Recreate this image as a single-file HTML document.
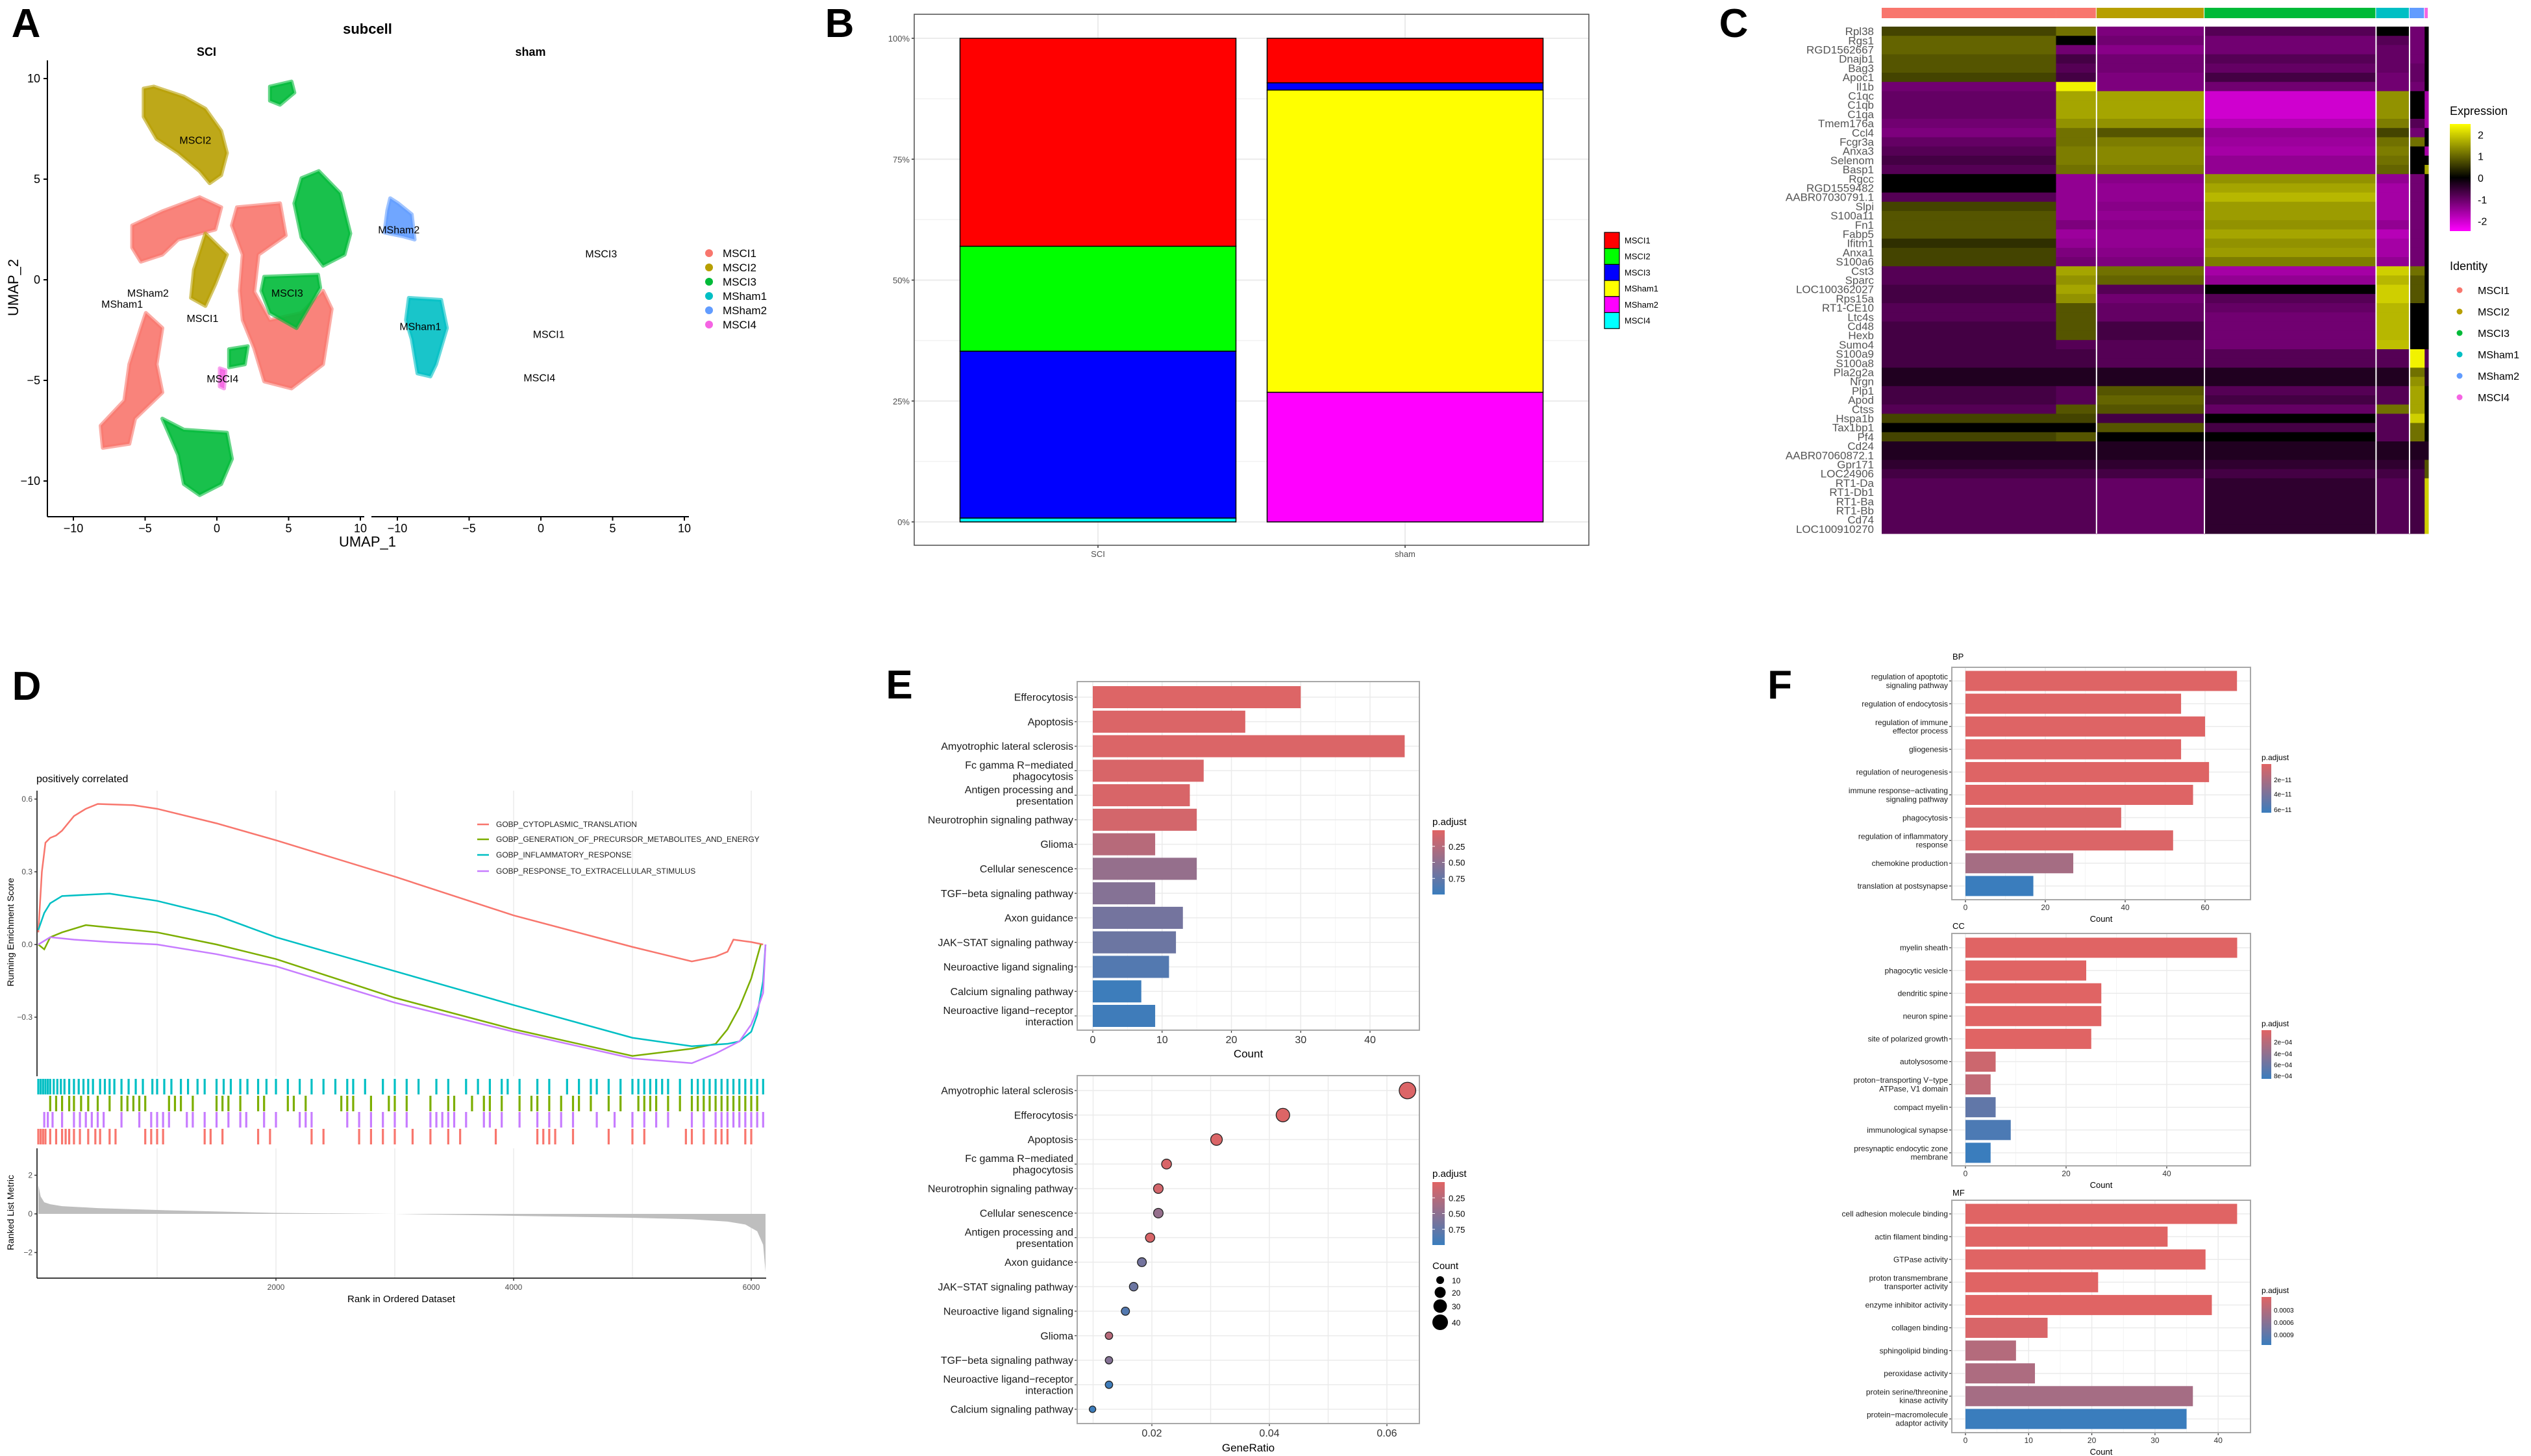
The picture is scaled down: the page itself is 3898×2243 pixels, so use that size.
<!DOCTYPE html>
<html><head><meta charset="utf-8">
<style>
html,body{margin:0;padding:0;background:#fff;}
svg{display:block;font-family:"Liberation Sans",sans-serif;}
.nar{font-family:"Liberation Sans Narrow","Liberation Sans",sans-serif;}
</style></head>
<body>
<svg id="fig" xmlns="http://www.w3.org/2000/svg" width="3898" height="2243" viewBox="0 0 3898 2243">
<rect x="0" y="0" width="3898" height="2243" fill="#fff"/>
<g font-weight="bold" font-size="62" text-anchor="middle">
<text x="40" y="57">A</text>
<text x="1293" y="57">B</text>
<text x="2670" y="57">C</text>
<text x="41" y="1078">D</text>
<text x="1385" y="1076">E</text>
<text x="2741" y="1076">F</text>
</g>
<g id="pA">
<text x="566" y="52" font-size="22" font-weight="bold" text-anchor="middle">subcell</text>
<text x="318" y="86" font-size="18" font-weight="bold" text-anchor="middle">SCI</text>
<text x="817" y="86" font-size="18" font-weight="bold" text-anchor="middle">sham</text>
<text x="566" y="842" font-size="22" text-anchor="middle">UMAP_1</text>
<text transform="translate(28,443) rotate(-90)" font-size="22" text-anchor="middle">UMAP_2</text>
</g>
<g id="pB"></g>
<g id="pC">
<text x="3773" y="177" font-size="18">Expression</text>
<text x="3773" y="416" font-size="18">Identity</text>
</g>
<g id="pD">
<text x="56" y="1205" font-size="16">positively correlated</text>
<text x="618" y="2006" font-size="15" text-anchor="middle">Rank in Ordered Dataset</text>
<text transform="translate(21,1436) rotate(-90)" font-size="14" text-anchor="middle">Running Enrichment Score</text>
<text transform="translate(21,1868) rotate(-90)" font-size="14" text-anchor="middle">Ranked List Metric</text>
</g>
<g id="pE"></g>
<g id="pF"></g>
</svg>
<script>
const NS='http://www.w3.org/2000/svg';
function mk(tag,attrs,parent){const e=document.createElementNS(NS,tag);for(const k in attrs)e.setAttribute(k,attrs[k]);parent.appendChild(e);return e;}
function txt(str,attrs,parent){const e=mk('text',attrs,parent);e.textContent=str;return e;}
function lerpCol(a,b,t){t=Math.max(0,Math.min(1,t));const pa=[parseInt(a.substr(1,2),16),parseInt(a.substr(3,2),16),parseInt(a.substr(5,2),16)];const pb=[parseInt(b.substr(1,2),16),parseInt(b.substr(3,2),16),parseInt(b.substr(5,2),16)];return 'rgb('+pa.map((v,i)=>Math.round(v+(pb[i]-v)*t)).join(',')+')';}

/* ================= Panel A data ================= */
const umapClusters=['MSCI1','MSCI2','MSCI3','MSham1','MSham2','MSCI4'];
const umapColors=['#F8766D','#B79F00','#00BA38','#00BFC4','#619CFF','#F564E3'];
const sciShapes=[
 {c:1,pts:[[-5.1,9.5],[-4.4,9.6],[-2.3,9.1],[-0.8,8.5],[0.3,7.4],[0.7,6.3],[0.3,5.2],[-0.5,4.8],[-1.2,5.4],[-2.7,6.3],[-4.2,7.0],[-5.1,8.1]]},
 {c:0,pts:[[-5.9,2.7],[-3.8,3.4],[-1.2,4.1],[0.3,3.6],[-0.1,2.5],[-2.7,2.0],[-3.8,1.25],[-5.3,0.9],[-5.9,1.6]]},
 {c:1,pts:[[-0.8,2.3],[0.7,1.25],[-0.1,-0.2],[-0.8,-1.3],[-1.8,-0.9],[-1.6,0.5]]},
 {c:0,pts:[[1.4,3.6],[4.4,3.8],[4.8,2.2],[2.9,1.25],[2.6,-0.6],[3.7,-2.0],[5.9,-1.65],[7.4,-0.55],[8.0,-1.45],[7.4,-4.2],[5.2,-5.4],[3.3,-5.05],[2.6,-3.4],[1.8,-2.0],[1.6,-0.55],[1.8,1.25],[1.05,2.7]]},
 {c:0,pts:[[-4.95,-1.65],[-3.8,-2.4],[-4.2,-4.2],[-3.8,-5.6],[-5.7,-6.9],[-6.1,-8.15],[-7.95,-8.35],[-8.1,-7.25],[-6.45,-6.0],[-6.1,-4.2],[-5.3,-2.4]]},
 {c:2,pts:[[5.9,5.05],[7.1,5.4],[8.6,4.3],[9.3,2.3],[8.9,1.25],[7.4,0.7],[5.9,2.1],[5.4,3.8]]},
 {c:2,pts:[[3.3,0.15],[7.05,0.25],[7.2,-0.4],[5.55,-2.4],[3.7,-1.65],[3.1,-0.55]]},
 {c:2,pts:[[3.7,9.6],[5.2,9.85],[5.4,9.3],[4.4,8.7],[3.7,8.9]]},
 {c:2,pts:[[-3.8,-6.9],[-2.3,-7.45],[0.7,-7.6],[1.05,-8.9],[0.3,-10.15],[-1.2,-10.7],[-2.3,-10.15],[-2.7,-8.7]]},
 {c:2,pts:[[0.85,-3.45],[2.15,-3.3],[1.95,-4.2],[0.85,-4.35]]},
 {c:5,pts:[[0.2,-4.4],[0.6,-4.5],[0.5,-5.4],[0.2,-5.3]]}
];
const shamShapes=[
 {c:4,pts:[[-10.5,4.05],[-9.95,3.8],[-9.0,3.25],[-8.8,2.0],[-9.55,2.15],[-10.9,2.35],[-10.7,3.45]]},
 {c:3,pts:[[-9.2,-0.9],[-6.95,-1.0],[-6.55,-2.4],[-7.3,-4.2],[-7.7,-4.8],[-8.6,-4.65],[-9.0,-2.95],[-9.4,-2.0]]}
];
const sciLabels=[['MSCI2',-1.5,6.95],['MSham2',-4.8,-0.65],['MSham1',-6.6,-1.2],['MSCI1',-1.0,-1.9],['MSCI3',4.9,-0.65],['MSCI4',0.4,-4.9]];
const shamLabels=[['MSham2',-9.9,2.5],['MSCI3',4.2,1.3],['MSham1',-8.4,-2.3],['MSCI1',0.55,-2.7],['MSCI4',-0.1,-4.85]];
const umapTicks=[-10,-5,0,5,10];
const umapYTicks=[10,5,0,-5,-10];

(function(){
 const g=document.getElementById('pA');
 const facets=[{x0:334,shapes:sciShapes,labels:sciLabels,ax0:73,ax1:561,name:'sci'},{x0:833,shapes:shamShapes,labels:shamLabels,ax0:572,ax1:1061,name:'sham'}];
 const sy=v=>431-v*31;
 facets.forEach(f=>{
  const sx=v=>f.x0+v*22.1;
  f.shapes.forEach(s=>{
   const p=mk('polygon',{points:s.pts.map(q=>sx(q[0])+','+sy(q[1])).join(' '),fill:umapColors[s.c],'fill-opacity':'0.9',stroke:umapColors[s.c],'stroke-width':'6','stroke-linejoin':'round','stroke-opacity':'0.6'},g);
   
   
  });
  f.labels.forEach(l=>{
   const t=txt(l[0],{x:sx(l[1]),y:sy(l[2])+6,'font-size':'16','text-anchor':'middle'},g);
   
   
  });
  const ax=mk('line',{x1:f.ax0,x2:f.ax1,y1:796,y2:796,stroke:'#000','stroke-width':'2'},g);
  
  
  umapTicks.forEach(v=>{
   mk('line',{x1:sx(v),x2:sx(v),y1:796,y2:802,stroke:'#000','stroke-width':'2'},g);
   const t=txt(String(v).replace('-','\u2212'),{x:sx(v),y:820,'font-size':'18','text-anchor':'middle'},g);
   
   
  });
 });
 const ya=mk('line',{x1:73,x2:73,y1:93,y2:796,stroke:'#000','stroke-width':'2'},g);
 
 
 umapYTicks.forEach(v=>{
  mk('line',{x1:67,x2:73,y1:sy(v),y2:sy(v),stroke:'#000','stroke-width':'2'},g);
  const t=txt(String(v).replace('-','\u2212'),{x:62,y:sy(v)+6,'font-size':'18','text-anchor':'end'},g);
  
  
 });
 umapClusters.forEach((c,i)=>{
  const y=390+i*22;
  const d=mk('circle',{cx:1092,cy:y,r:6,fill:umapColors[i]},g);
  
  
  const t=txt(c,{x:1113,y:y+6,'font-size':'17'},g);
  
  
 });
})();

/* ================= Panel B data ================= */
const bCategories=['SCI','sham'];
const bLevels=['MSCI1','MSCI2','MSCI3','MSham1','MSham2','MSCI4'];
const bColors=['#FF0000','#00FF00','#0000FF','#FFFF00','#FF00FF','#00FFFF'];
const bSCI=[43.0,21.7,34.5,0,0,0.8];
const bSham=[9.2,0,1.5,62.5,26.8,0];
const bTicks=[0,25,50,75,100];
(function(){
 const g=document.getElementById('pB');
 const L=1408,R=2447,T=22,B=840;
 const y=v=>804-v*7.45;
 const cx=[1691,2164], bw=425;
 mk('rect',{x:L,y:T,width:R-L,height:B-T,fill:'#fff'},g);
 [12.5,37.5,62.5,87.5].forEach(v=>mk('line',{x1:L,x2:R,y1:y(v),y2:y(v),stroke:'#F2F2F2','stroke-width':'1.5'},g));
 bTicks.forEach(v=>{
  mk('line',{x1:L,x2:R,y1:y(v),y2:y(v),stroke:'#EBEBEB','stroke-width':'2'},g);
  mk('line',{x1:L-4,x2:L,y1:y(v),y2:y(v),stroke:'#333','stroke-width':'1.5'},g);
  const t=txt(v+'%',{x:L-7,y:y(v)+5,'font-size':'13',fill:'#4D4D4D','text-anchor':'end'},g);
  
  
 });
 cx.forEach(c=>mk('line',{x1:c,x2:c,y1:T,y2:B,stroke:'#EBEBEB','stroke-width':'2'},g));
 const series=[bSCI,bSham];
 const order=[5,4,3,2,1,0];
 series.forEach((vals,ci)=>{
  let acc=0;
  order.forEach(li=>{
   const v=vals[li]; if(v<=0)return;
   const r=mk('rect',{x:cx[ci]-bw/2,y:y(acc+v),width:bw,height:y(acc)-y(acc+v),fill:bColors[li],stroke:'#000','stroke-width':'1.5'},g);
   
   
   acc+=v;
  });
  mk('line',{x1:cx[ci],x2:cx[ci],y1:B,y2:B+4,stroke:'#333','stroke-width':'1.5'},g);
  const t=txt(bCategories[ci],{x:cx[ci],y:858,'font-size':'13',fill:'#4D4D4D','text-anchor':'middle'},g);
  
  
 });
 const fr=mk('rect',{x:L,y:T,width:R-L,height:B-T,fill:'none',stroke:'#4D4D4D','stroke-width':'1.5'},g);
 
 
 bLevels.forEach((lv,i)=>{
  const r=mk('rect',{x:2471,y:358+i*24.7,width:23,height:24.7,fill:bColors[i],stroke:'#000','stroke-width':'1.2'},g);
  
  
  const t=txt(lv,{x:2502,y:358+i*24.7+17,'font-size':'13'},g);
  
  
 });
})();

/* ================= Panel C data ================= */
const hmGenes=['Rpl38','Rgs1','RGD1562667','Dnajb1','Bag3','Apoc1','Il1b','C1qc','C1qb','C1qa','Tmem176a','Ccl4','Fcgr3a','Anxa3','Selenom','Basp1','Rgcc','RGD1559482','AABR07030791.1','Slpi','S100a11','Fn1','Fabp5','Ifitm1','Anxa1','S100a6','Cst3','Sparc','LOC100362027','Rps15a','RT1-CE10','Ltc4s','Cd48','Hexb','Sumo4','S100a9','S100a8','Pla2g2a','Nrgn','Plp1','Apod','Ctss','Hspa1b','Tax1bp1','Pf4','Cd24','AABR07060872.1','Gpr171','LOC24906','RT1-Da','RT1-Db1','RT1-Ba','RT1-Bb','Cd74','LOC100910270'];
const hmGroups=['MSCI1','MSCI1','MSCI2','MSCI3','MSham1','MSham2','MSCI4'];
const hmGroupCells=[323,75,200,318,62,28,7];
const hmValues=[
[0.2,0.5,-0.6,-0.3,0,-0.5,0],[0.4,0,-0.5,-0.5,-0.3,-0.5,0],[0.4,-0.5,-0.7,-0.5,-0.4,-0.5,0],[0.3,-0.2,-0.5,-0.3,-0.4,-0.5,0],[0.3,-0.3,-0.5,-0.4,-0.4,-0.4,0],[0.2,-0.2,-0.6,-0.2,-0.5,-0.4,0],[-0.5,2,-0.6,-0.5,-0.5,-0.5,0],
[-0.4,1.0,1.0,-1.5,0.8,0,-1],[-0.4,1.0,1.0,-1.5,0.8,0,-1],[-0.4,1.0,1.0,-1.5,0.8,0,-1],[-0.5,0.8,0.8,-1.2,0.6,-0.3,-1],[-0.6,0.5,0.3,-0.8,0.2,-0.5,0],[-0.4,0.5,0.6,-0.9,0.5,0.5,0],[-0.3,0.6,0.7,-1.0,0.6,0,-1],[-0.2,0.6,0.7,-0.8,0.5,0,0],[-0.3,0.5,0.6,-0.8,0.4,0,1],
[0,-0.8,-0.7,0.8,-0.8,-0.5,0],[0,-0.8,-0.8,1.0,-1,-0.5,0],[-0.3,-0.8,-0.8,1.2,-1,-0.5,0],[0.2,-0.8,-0.7,0.9,-1,-0.5,0],[0.3,-0.8,-0.8,0.9,-1,-0.5,0],[0.3,-0.6,-0.7,0.8,-0.8,-0.5,0],[0.3,-0.9,-0.8,1.0,-1.2,-0.5,0],[0.1,-0.8,-0.8,0.8,-1.0,-0.5,0],[0.2,-0.6,-0.7,0.9,-1.0,-0.5,0],[0.2,-0.5,-0.6,0.6,-0.8,-0.5,0],
[-0.3,1.0,0.5,-1.0,1.5,0.5,0],[-0.3,0.8,0.4,-0.8,1.2,0.3,0],[-0.2,1.0,-0.3,0,1.5,0.3,0],[-0.2,0.8,-0.5,-0.3,1.5,0.3,0],[-0.3,0.3,-0.4,-0.4,1.2,0,0],[-0.3,0.3,-0.4,-0.5,1.2,0,0],[-0.2,0.3,-0.2,-0.5,1.2,0,0],[-0.2,0.3,-0.2,-0.5,1.2,0,0],[-0.2,-0.3,-0.3,-0.5,1.3,0,0],
[-0.2,-0.2,-0.3,-0.3,-0.3,2,-0.3],[-0.2,-0.2,-0.3,-0.3,-0.3,2,-0.3],[-0.05,-0.05,-0.05,-0.05,-0.05,0.5,-0.05],[-0.05,-0.05,-0.05,-0.05,-0.05,0.8,-0.05],
[-0.2,-0.3,0.3,-0.3,-0.3,1,0],[-0.2,-0.3,0.4,-0.2,-0.3,1,0],[-0.3,0.3,0.3,-0.4,0.5,1,0],[0.2,0.2,-0.2,0,-0.3,1.5,0],[0,0,0.3,-0.2,-0.3,0.5,0],[0.2,0.3,0,0,-0.3,0.5,0],
[-0.05,-0.05,-0.05,-0.05,-0.05,-0.05,-0.05],[-0.05,-0.05,-0.05,-0.05,-0.05,-0.05,-0.05],[-0.1,-0.1,-0.1,-0.1,-0.1,-0.1,0.3],[-0.2,-0.2,-0.2,-0.2,-0.2,-0.2,0.3],
[-0.3,-0.3,-0.4,-0.1,-0.3,-0.2,1.5],[-0.3,-0.3,-0.4,-0.1,-0.3,-0.2,1.5],[-0.3,-0.3,-0.4,-0.1,-0.3,-0.2,1.5],[-0.3,-0.3,-0.4,-0.1,-0.3,-0.2,1.5],[-0.3,-0.3,-0.4,-0.1,-0.3,-0.2,1.5],[-0.3,-0.3,-0.4,-0.1,-0.3,-0.2,1.5]
];
const idColors={MSCI1:'#F8766D',MSCI2:'#B79F00',MSCI3:'#00BA38',MSham1:'#00BFC4',MSham2:'#619CFF',MSCI4:'#F564E3'};
const hmScaleTicks=[2,1,0,-1,-2];
function hmColor(v){const t=Math.pow(Math.min(1,Math.abs(v)/2.2),0.55);const c=Math.round(255*t);return v>=0?'rgb('+c+','+c+',0)':'rgb('+c+',0,'+c+')';}
(function(){
 const g=document.getElementById('pC');
 const X0=2898,X1=3740,Y0=41,Y1=822;
 const total=hmGroupCells.reduce((a,b)=>a+b,0);
 const rowH=(Y1-Y0)/hmGenes.length;
 const gx=[];let acc=0;hmGroupCells.forEach(n=>{gx.push(X0+acc/total*(X1-X0));acc+=n;});gx.push(X1);
 hmValues.forEach((row,ri)=>{
  row.forEach((v,gi)=>{
   const r=mk('rect',{x:gx[gi],y:Y0+ri*rowH,width:gx[gi+1]-gx[gi]+0.5,height:rowH+0.5,fill:hmColor(v)},g);
   
   
  });
  const t=txt(hmGenes[ri],{x:2886,y:Y0+(ri+0.5)*rowH+6,'font-size':'17','text-anchor':'end',fill:'#555',class:'nar'},g);
  
  
 });
 [2,3,4,5].forEach(i=>{const l=mk('line',{x1:gx[i],x2:gx[i],y1:Y0,y2:Y1,stroke:'#fff','stroke-width':'2'},g);});
 hmGroups.forEach((gr,i)=>{
  const r=mk('rect',{x:gx[i],y:12,width:gx[i+1]-gx[i]-(i===0?0:1),height:16,fill:idColors[gr]},g);
  
  
 });
 const defs=mk('defs',{},g);
 const lg=mk('linearGradient',{id:'expg',x1:'0',y1:'0',x2:'0',y2:'1'},defs);
 [['0','#FFFF00'],['0.5','#000000'],['1','#FF00FF']].forEach(s=>mk('stop',{offset:s[0],'stop-color':s[1]},lg));
 const cb=mk('rect',{x:3773,y:191,width:32,height:165,fill:'url(#expg)'},g);
 
 
 hmScaleTicks.forEach(v=>{
  const y=274-v*33.3;
  const t=txt(String(v),{x:3816,y:y+6,'font-size':'16'},g);
  
  
 });
 Object.keys(idColors).forEach((k,i)=>{
  const y=447+i*33;
  const d=mk('circle',{cx:3788,cy:y,r:4.5,fill:idColors[k]},g);
  
  
  const t=txt(k,{x:3816,y:y+6,'font-size':'16'},g);
  
  
 });
})();

/* ================= Panel D data ================= */
const gseaSets=['GOBP_CYTOPLASMIC_TRANSLATION','GOBP_GENERATION_OF_PRECURSOR_METABOLITES_AND_ENERGY','GOBP_INFLAMMATORY_RESPONSE','GOBP_RESPONSE_TO_EXTRACELLULAR_STIMULUS'];
const gseaColors=['#F8766D','#7CAE00','#00BFC4','#C77CFF'];
const redRank=[0,30,60,100,150,200,300,400,500,800,1000,1500,2000,3000,4000,5000,5500,5700,5800,5850,6000,6100];
const redES=[0.05,0.3,0.42,0.44,0.45,0.47,0.53,0.56,0.58,0.575,0.56,0.5,0.43,0.28,0.12,-0.01,-0.07,-0.05,-0.03,0.02,0.01,0.0];
const greenRank=[0,50,100,200,400,800,1000,1500,2000,3000,4000,5000,5500,5700,5800,5900,6000,6080];
const greenES=[0,-0.02,0.03,0.05,0.08,0.06,0.05,0.0,-0.06,-0.22,-0.35,-0.46,-0.43,-0.41,-0.35,-0.26,-0.14,0.0];
const cyanRank=[0,50,100,200,600,1000,1500,2000,3000,4000,5000,5500,5800,5900,6000,6050,6100,6120];
const cyanES=[0.06,0.13,0.17,0.2,0.21,0.18,0.12,0.03,-0.11,-0.25,-0.385,-0.42,-0.41,-0.40,-0.36,-0.29,-0.15,0.0];
const purpleRank=[0,100,300,600,1000,1500,2000,3000,4000,5000,5500,5700,5900,6000,6050,6100,6120];
const purpleES=[0,0.03,0.02,0.01,0.0,-0.04,-0.09,-0.24,-0.36,-0.47,-0.49,-0.45,-0.40,-0.33,-0.27,-0.2,0.0];
const cyanHits=[0,20,40,60,80,100,130,160,190,220,260,300,340,380,420,460,520,560,600,640,700,760,820,880,960,1000,1060,1120,1200,1260,1340,1400,1500,1560,1620,1700,1760,1850,1920,2000,2100,2200,2300,2400,2500,2600,2650,2750,2900,3000,3100,3200,3350,3450,3600,3700,3800,3900,3950,4050,4200,4300,4450,4550,4650,4700,4800,4900,5000,5050,5100,5150,5200,5250,5300,5400,5500,5550,5600,5650,5700,5750,5800,5850,5900,5950,6000,6050,6100];
const greenHits=[100,150,200,260,300,360,420,500,600,700,750,800,850,900,1100,1150,1200,1300,1500,1550,1600,1700,1850,1900,2100,2150,2250,2550,2600,2650,2800,2950,3000,3100,3300,3450,3500,3650,3750,3800,3900,4050,4150,4200,4300,4400,4500,4550,4650,4800,4900,5050,5100,5150,5200,5300,5400,5500,5550,5600,5650,5700,5750,5800,5850,5900,5950,6000,6050];
const purpleHits=[50,80,120,200,300,350,400,450,500,550,700,850,950,1000,1050,1100,1250,1300,1400,1500,1600,1700,1750,1900,2000,2200,2250,2300,2600,2700,2800,2900,3000,3100,3300,3350,3400,3450,3500,3600,3750,3800,3900,4050,4200,4300,4400,4500,4700,4850,5000,5100,5200,5300,5500,5600,5700,5750,5800,5850,5900,5950,6000,6050,6100];
const redHits=[0,20,40,60,100,150,200,230,260,300,350,420,480,520,600,650,900,950,1000,1050,1400,1450,1550,1850,1950,2300,2400,2700,2800,2900,3000,3150,3300,3450,3550,3850,4200,4250,4300,4350,4500,4800,5000,5100,5450,5500,5600,5700,5750,5800,5950,6000];
const metricRank=[0,20,50,100,200,500,1000,2000,3000,4000,5000,5500,5800,5950,6050,6100,6120];
const metricVal=[1.5,0.9,0.6,0.5,0.4,0.3,0.2,0.05,0,-0.1,-0.2,-0.28,-0.4,-0.55,-0.9,-1.6,-3.0];
const esTicks=[0.6,0.3,0.0,-0.3];
const metricTicks=[2,0,-2];
const rankTicks=[2000,4000,6000];
(function(){
 const g=document.getElementById('pD');
 const xr=r=>59+r*0.183;
 const ye=v=>1455-v*373.3;
 const ym=v=>1870-v*29.75;
 [1000,2000,3000,4000,5000,6000].forEach(r=>{
  mk('line',{x1:xr(r),x2:xr(r),y1:1218,y2:1658,stroke:'#EBEBEB','stroke-width':'1.5'},g);
  mk('line',{x1:xr(r),x2:xr(r),y1:1769,y2:1969,stroke:'#EBEBEB','stroke-width':'1.5'},g);
 });
 mk('line',{x1:57,x2:57,y1:1218,y2:1658,stroke:'#000','stroke-width':'1.5'},g);
 esTicks.forEach(v=>{
  mk('line',{x1:53,x2:57,y1:ye(v),y2:ye(v),stroke:'#333','stroke-width':'1.5'},g);
  const t=txt(v.toFixed(1).replace('-','\u2212'),{x:50,y:ye(v)+4,'font-size':'12',fill:'#4D4D4D','text-anchor':'end'},g);
  
  
 });
 const curves=[[redRank,redES,0],[greenRank,greenES,1],[cyanRank,cyanES,2],[purpleRank,purpleES,3]];
 curves.forEach(c=>{
  const p=mk('polyline',{points:c[0].map((r,i)=>xr(r)+','+ye(c[1][i])).join(' '),fill:'none',stroke:gseaColors[c[2]],'stroke-width':'2.5'},g);
  
  
 });
 gseaSets.forEach((s,i)=>{
  const y=[1270,1293,1317,1342][i];
  mk('line',{x1:735,x2:753,y1:y,y2:y,stroke:gseaColors[i],'stroke-width':'2.5'},g);
  const t=txt(s,{x:764,y:y+4,'font-size':'12',fill:'#222'},g);
  
  
 });
 const hitSets=[[cyanHits,2,1662],[greenHits,1,1688],[purpleHits,3,1713],[redHits,0,1739]];
 hitSets.forEach(h=>{
  const gg=mk('g',{},g);
  
  
  h[0].forEach(r=>{
   const l=mk('line',{x1:xr(r),x2:xr(r),y1:h[2],y2:h[2]+24,stroke:gseaColors[h[1]],'stroke-width':'3.2'},gg);
   
   
  });
 });
 const area=mk('polygon',{points:xr(0)+','+ym(0)+' '+metricRank.map((r,i)=>xr(r)+','+ym(metricVal[i])).join(' ')+' '+xr(6120)+','+ym(0),fill:'#BEBEBE'},g);
 
 
 mk('line',{x1:57,x2:57,y1:1769,y2:1969,stroke:'#000','stroke-width':'1.5'},g);
 mk('line',{x1:57,x2:1180,y1:1969,y2:1969,stroke:'#000','stroke-width':'1.5'},g);
 metricTicks.forEach(v=>{
  mk('line',{x1:53,x2:57,y1:ym(v),y2:ym(v),stroke:'#333','stroke-width':'1.5'},g);
  const t=txt(String(v).replace('-','\u2212'),{x:50,y:ym(v)+4,'font-size':'12',fill:'#4D4D4D','text-anchor':'end'},g);
  
  
 });
 rankTicks.forEach(r=>{
  mk('line',{x1:xr(r),x2:xr(r),y1:1969,y2:1973,stroke:'#333','stroke-width':'1.5'},g);
  const t=txt(String(r),{x:xr(r),y:1987,'font-size':'12',fill:'#4D4D4D','text-anchor':'middle'},g);
  
  
 });
})();

/* ================= Panel E data ================= */
const keggTerms=['Efferocytosis','Apoptosis','Amyotrophic lateral sclerosis','Fc gamma R\u2212mediated|phagocytosis','Antigen processing and|presentation','Neurotrophin signaling pathway','Glioma','Cellular senescence','TGF\u2212beta signaling pathway','Axon guidance','JAK\u2212STAT signaling pathway','Neuroactive ligand signaling','Calcium signaling pathway','Neuroactive ligand\u2212receptor|interaction'];
const keggCounts=[30,22,45,16,14,15,9,15,9,13,12,11,7,9];
const keggPadj=[0.02,0.03,0.03,0.05,0.05,0.08,0.25,0.45,0.55,0.65,0.7,0.85,0.98,0.97];
const dotTerms=['Amyotrophic lateral sclerosis','Efferocytosis','Apoptosis','Fc gamma R\u2212mediated|phagocytosis','Neurotrophin signaling pathway','Cellular senescence','Antigen processing and|presentation','Axon guidance','JAK\u2212STAT signaling pathway','Neuroactive ligand signaling','Glioma','TGF\u2212beta signaling pathway','Neuroactive ligand\u2212receptor|interaction','Calcium signaling pathway'];
const dotRatio=[0.0635,0.0423,0.031,0.0225,0.0211,0.0211,0.0197,0.0183,0.0169,0.0155,0.0127,0.0127,0.0127,0.0099];
const dotCount=[45,30,22,16,15,15,14,13,12,11,9,9,9,7];
const dotPadj=[0.03,0.02,0.03,0.05,0.08,0.45,0.05,0.65,0.7,0.85,0.25,0.55,0.97,0.98];
const keggCountTicks=[0,10,20,30,40];
const ratioTicks=[0.02,0.04,0.06];
const padjTicks=[0.25,0.5,0.75];
const sizeLegend=[10,20,30,40];
const HI='#E06464',LO='#3A7DBD';

function labelLines(g,label,x,y,fs,cls){
 const parts=label.split('|');
 parts.forEach((p,i)=>{
  const t=txt(p,{x:x,y:y+fs*0.35+(i-(parts.length-1)/2)*fs*1.1,'font-size':fs,'text-anchor':'end',fill:'#1a1a1a',class:cls},g);
  
  
 });
}
function colorbar(g,id,x,y,w,h,title,tickVals,tickY,fs){
 const defs=mk('defs',{},g);
 const lg=mk('linearGradient',{id:id,x1:'0',y1:'0',x2:'0',y2:'1'},defs);
 mk('stop',{offset:'0','stop-color':HI},lg);mk('stop',{offset:'1','stop-color':LO},lg);
 const t=txt(title,{x:x,y:y-8,'font-size':fs+2,class:'nar'},g);
 
 
 const r=mk('rect',{x:x,y:y,width:w,height:h,fill:'url(#'+id+')'},g);
 
 
 tickVals.forEach((v,i)=>{
  const yy=tickY(v);
  mk('line',{x1:x,x2:x+4,y1:yy,y2:yy,stroke:'#fff','stroke-width':'1'},g);
  mk('line',{x1:x+w-4,x2:x+w,y1:yy,y2:yy,stroke:'#fff','stroke-width':'1'},g);
  const tt=txt(v.toFixed(2),{x:x+w+6,y:yy+5,'font-size':fs,class:'nar'},g);
  
  
 });
}
function barChart(g,name,o){
 const sx=v=>o.x0+v*o.k;
 mk('rect',{x:o.L,y:o.T,width:o.R-o.L,height:o.B-o.T,fill:'#fff'},g);
 o.ticks.forEach((v,i)=>{
  mk('line',{x1:sx(v),x2:sx(v),y1:o.T,y2:o.B,stroke:'#EBEBEB','stroke-width':'1.5'},g);
  if(i<o.ticks.length-1){const m=(v+o.ticks[i+1])/2;mk('line',{x1:sx(m),x2:sx(m),y1:o.T,y2:o.B,stroke:'#F4F4F4','stroke-width':'1'},g);}
 });
 o.cats.forEach((c,i)=>{
  const cy=o.y0+i*o.dy;
  mk('line',{x1:o.L,x2:o.R,y1:cy,y2:cy,stroke:'#EBEBEB','stroke-width':'1.5'},g);
  const r=mk('rect',{x:sx(0),y:cy-o.bh/2,width:sx(o.vals[i])-sx(0),height:o.bh,fill:lerpCol(HI,LO,o.ps[i]/o.pmax)},g);
  
  
  mk('line',{x1:o.L-4,x2:o.L,y1:cy,y2:cy,stroke:'#333','stroke-width':'1.2'},g);
  labelLines(g,c,o.L-6,cy,o.fs,'nar');
 });
 o.ticks.forEach(v=>{
  mk('line',{x1:sx(v),x2:sx(v),y1:o.B,y2:o.B+4,stroke:'#333','stroke-width':'1.2'},g);
  const t=txt(String(v),{x:sx(v),y:o.B+o.fs+4,'font-size':o.fs,'text-anchor':'middle',fill:'#333',class:'nar'},g);
  
  
 });
 const b=mk('rect',{x:o.L,y:o.T,width:o.R-o.L,height:o.B-o.T,fill:'none',stroke:'#A8A8A8','stroke-width':'2'},g);
 
 
 const t=txt('Count',{x:(o.L+o.R)/2,y:o.B+o.fs*2+10,'font-size':o.fs+1,'text-anchor':'middle',class:'nar'},g);
 
 
}
(function(){
 const g=document.getElementById('pE');
 barChart(g,'kegg',{L:1659,R:2186,T:1050,B:1587,x0:1683,k:10.675,ticks:keggCountTicks,cats:keggTerms,vals:keggCounts,ps:keggPadj,pmax:1,y0:1074,dy:37.77,bh:34,fs:16});
 colorbar(g,'pe1',2206,1279,19,99,'p.adjust',padjTicks,v=>1279+v*99,13);
 const L=1659,R=2186,T=1657,B=2193;
 const sx=v=>1774+(v-0.02)*9050;
 mk('rect',{x:L,y:T,width:R-L,height:B-T,fill:'#fff'},g);
 [0.01,0.02,0.03,0.04,0.05,0.06].forEach(v=>mk('line',{x1:sx(v),x2:sx(v),y1:T,y2:B,stroke:'#EBEBEB','stroke-width':'1.5'},g));
 dotTerms.forEach((c,i)=>{
  const cy=1680+i*37.77;
  mk('line',{x1:L,x2:R,y1:cy,y2:cy,stroke:'#EBEBEB','stroke-width':'1.5'},g);
  mk('line',{x1:L-4,x2:L,y1:cy,y2:cy,stroke:'#333','stroke-width':'1.2'},g);
  labelLines(g,c,L-6,cy,16,'nar');
  const d=mk('circle',{cx:sx(dotRatio[i]),cy:cy,r:Math.sqrt(dotCount[i])*1.9,fill:lerpCol(HI,LO,dotPadj[i]),stroke:'#222','stroke-width':'1.3'},g);
  
  
 });
 ratioTicks.forEach(v=>{
  mk('line',{x1:sx(v),x2:sx(v),y1:B,y2:B+4,stroke:'#333','stroke-width':'1.2'},g);
  const t=txt(String(v),{x:sx(v),y:B+20,'font-size':'16','text-anchor':'middle',fill:'#333',class:'nar'},g);
  
  
 });
 const b=mk('rect',{x:L,y:T,width:R-L,height:B-T,fill:'none',stroke:'#A8A8A8','stroke-width':'2'},g);
 
 
 const t=txt('GeneRatio',{x:(L+R)/2,y:2236,'font-size':'17','text-anchor':'middle',class:'nar'},g);
 
 
 colorbar(g,'pe2',2206,1821,19,97,'p.adjust',padjTicks,v=>1821+v*97,13);
 const ct=txt('Count',{x:2206,y:1955,'font-size':'15',class:'nar'},g);
 
 
 sizeLegend.forEach((v,i)=>{
  const y=[1972,1991,2012,2037][i];
  const c=mk('circle',{cx:2218,cy:y,r:Math.sqrt(v)*1.9,fill:'#000'},g);
  
  
  const tt=txt(String(v),{x:2236,y:y+5,'font-size':'12',class:'nar'},g);
  
  
 });
})();

/* ================= Panel F data ================= */
const bpTerms=['regulation of apoptotic|signaling pathway','regulation of endocytosis','regulation of immune|effector process','gliogenesis','regulation of neurogenesis','immune response\u2212activating|signaling pathway','phagocytosis','regulation of inflammatory|response','chemokine production','translation at postsynapse'];
const bpCounts=[68,54,60,54,61,57,39,52,27,17];
const bpPadj=[1e-12,1e-12,1e-12,1e-12,1e-12,1e-12,2e-12,2e-12,2.4e-11,6.8e-11];
const ccTerms=['myelin sheath','phagocytic vesicle','dendritic spine','neuron spine','site of polarized growth','autolysosome','proton\u2212transporting V\u2212type|ATPase, V1 domain','compact myelin','immunological synapse','presynaptic endocytic zone|membrane'];
const ccCounts=[54,24,27,27,25,6,5,6,9,5];
const ccPadj=[1e-6,1e-6,1e-6,1e-6,2e-6,1e-4,1.6e-4,6.5e-4,7.6e-4,8.5e-4];
const mfTerms=['cell adhesion molecule binding','actin filament binding','GTPase activity','proton transmembrane|transporter activity','enzyme inhibitor activity','collagen binding','sphingolipid binding','peroxidase activity','protein serine/threonine|kinase activity','protein\u2212macromolecule|adaptor activity'];
const mfCounts=[43,32,38,21,39,13,8,11,36,35];
const mfPadj=[1e-6,1e-6,1e-6,1e-6,1e-6,5e-5,3e-4,3.5e-4,4e-4,1.13e-3];
const bpTicks=[0,20,40,60];
const ccTicks=[0,20,40];
const mfTicks=[0,10,20,30,40];
const bpLegend=['2e\u221211','4e\u221211','6e\u221211'];
const ccLegend=['2e\u221204','4e\u221204','6e\u221204','8e\u221204'];
const mfLegend=['0.0003','0.0006','0.0009'];
(function(){
 const g=document.getElementById('pF');
 const subs=[
  {n:'bp',title:'BP',ty:1016,T:1028,B:1386,k:6.15,ticks:bpTicks,cats:bpTerms,vals:bpCounts,ps:bpPadj,pmax:6.8e-11,y0:1049,lg:bpLegend,lgy:[1201,1223,1247],cb:[1177,1252]},
  {n:'cc',title:'CC',ty:1431,T:1438,B:1796,k:7.75,ticks:ccTicks,cats:ccTerms,vals:ccCounts,ps:ccPadj,pmax:8.5e-4,y0:1460,lg:ccLegend,lgy:[1605,1623,1640,1657],cb:[1587,1662]},
  {n:'mf',title:'MF',ty:1842,T:1849,B:2207,k:9.73,ticks:mfTicks,cats:mfTerms,vals:mfCounts,ps:mfPadj,pmax:1.13e-3,y0:1870,lg:mfLegend,lgy:[2018,2037,2056],cb:[1998,2072]}
 ];
 subs.forEach((s,si)=>{
  const t=txt(s.title,{x:3007,y:s.ty,'font-size':'13',class:'nar'},g);
  
  
  barChart(g,s.n,{L:3006,R:3466,T:s.T,B:s.B,x0:3027,k:s.k,ticks:s.ticks,cats:s.cats,vals:s.vals,ps:s.ps,pmax:s.pmax,y0:s.y0,dy:35.1,bh:31,fs:12});
  const defs=mk('defs',{},g);
  const lg=mk('linearGradient',{id:'pf'+si,x1:'0',y1:'0',x2:'0',y2:'1'},defs);
  mk('stop',{offset:'0','stop-color':HI},lg);mk('stop',{offset:'1','stop-color':LO},lg);
  const lt=txt('p.adjust',{x:3483,y:s.cb[0]-6,'font-size':'12',class:'nar'},g);
  
  
  const r=mk('rect',{x:3483,y:s.cb[0],width:15,height:s.cb[1]-s.cb[0],fill:'url(#pf'+si+')'},g);
  
  
  s.lg.forEach((l,i)=>{
   const tt=txt(l,{x:3502,y:s.lgy[i]+4,'font-size':'10',class:'nar'},g);
   
   
  });
 });
})();
</script>
</body></html>
